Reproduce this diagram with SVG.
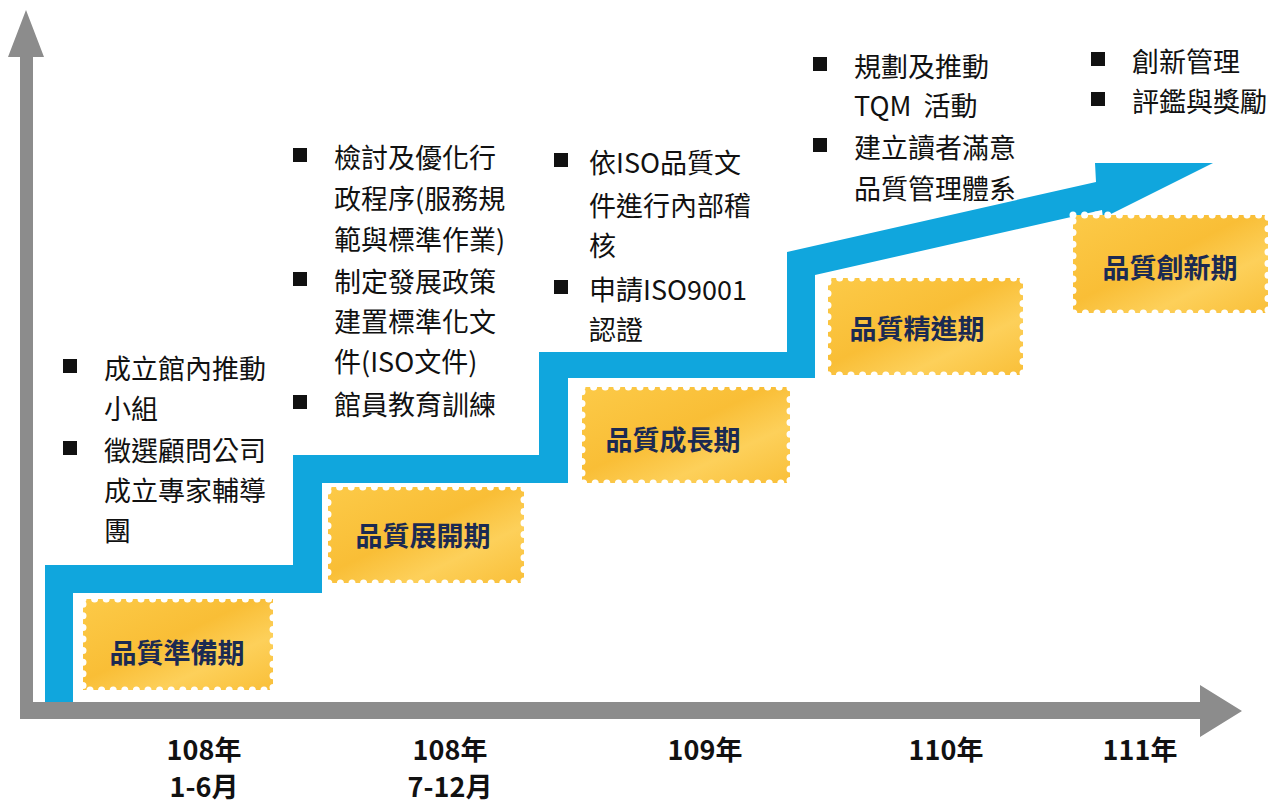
<svg xmlns="http://www.w3.org/2000/svg" width="1279" height="803" viewBox="0 0 1279 803">
<style>
.t{font-family:"Noto Sans CJK TC","Noto Sans CJK SC",sans-serif;font-size:27px;fill:#111}
.s{font-family:"Noto Sans CJK TC","Noto Sans CJK SC",sans-serif;font-size:27px;font-weight:bold;fill:#1b2a52;text-anchor:middle}
.y{font-family:"Noto Sans CJK TC","Noto Sans CJK SC",sans-serif;font-size:27px;font-weight:bold;fill:#111;text-anchor:middle}
.perf{fill:none;stroke:#fff;stroke-width:7;stroke-linecap:round;stroke-dasharray:0 11.6}
.bul{fill:#111}
</style>
<defs>
<linearGradient id="gold" x1="0" y1="0" x2="1" y2="1">
<stop offset="0" stop-color="#fcca48"/>
<stop offset="0.45" stop-color="#f9be36"/>
<stop offset="0.7" stop-color="#fdd05a"/>
<stop offset="1" stop-color="#f9bf38"/>
</linearGradient>
</defs>
<rect width="1279" height="803" fill="#fff"/>
<g id="axes" fill="#8c8c8c">
<polygon points="26,10 44,57 33,57 33,702 1200,702 1200,685 1242,711 1200,737 1200,719 20,719 20,57 8,57"/>
</g>
<g id="connectors">
<polygon fill="#10a6dd" points="45,702 45,565 293,565 293,455 539,455 539,352 787,352 787,252 1096,182 1095,163 1213,163 1103,218 1102,210 815,275 815,378 568,378 568,483 322,483 322,593 73,593 73,702"/>
</g>
<g id="stage1">
<rect x="83" y="599" width="190" height="91" fill="url(#gold)"/>
<rect x="83" y="599" width="190" height="91" class="perf"/>
<text x="177" y="663" class="s">品質準備期</text>
</g>
<g id="stage2">
<rect x="328" y="487" width="196" height="96" fill="url(#gold)"/>
<rect x="328" y="487" width="196" height="96" class="perf"/>
<text x="423" y="546" class="s">品質展開期</text>
</g>
<g id="stage3">
<rect x="582" y="387" width="208" height="96" fill="url(#gold)"/>
<rect x="582" y="387" width="208" height="96" class="perf"/>
<text x="673" y="450" class="s">品質成長期</text>
</g>
<g id="stage4">
<rect x="828" y="278" width="195" height="97" fill="url(#gold)"/>
<rect x="828" y="278" width="195" height="97" class="perf"/>
<text x="917" y="339" class="s">品質精進期</text>
</g>
<g id="stage5">
<rect x="1073" y="215" width="195" height="98" fill="url(#gold)"/>
<rect x="1073" y="215" width="195" height="98" class="perf"/>
<text x="1170" y="278" class="s">品質創新期</text>
</g>
<g id="notes1">
<rect class="bul" x="63" y="359" width="14" height="14"/>
<rect class="bul" x="63" y="441" width="14" height="14"/>
<text class="t" x="104" y="379">成立館內推動</text>
<text class="t" x="104" y="419">小組</text>
<text class="t" x="104" y="461">徵選顧問公司</text>
<text class="t" x="104" y="501">成立專家輔導</text>
<text class="t" x="104" y="541">團</text>
</g>
<g id="notes2">
<rect class="bul" x="293" y="148" width="14" height="14"/>
<rect class="bul" x="293" y="272" width="14" height="14"/>
<rect class="bul" x="293" y="395" width="14" height="14"/>
<text class="t" x="334" y="168">檢討及優化行</text>
<text class="t" x="334" y="209">政程序(服務規</text>
<text class="t" x="334" y="250">範與標準作業)</text>
<text class="t" x="334" y="292">制定發展政策</text>
<text class="t" x="334" y="332">建置標準化文</text>
<text class="t" x="334" y="372">件(ISO文件)</text>
<text class="t" x="334" y="415">館員教育訓練</text>
</g>
<g id="notes3">
<rect class="bul" x="554" y="153" width="14" height="14"/>
<rect class="bul" x="554" y="280" width="14" height="14"/>
<text class="t" x="589" y="173">依ISO品質文</text>
<text class="t" x="589" y="216">件進行內部稽</text>
<text class="t" x="589" y="256">核</text>
<text class="t" x="589" y="300">申請ISO9001</text>
<text class="t" x="589" y="340">認證</text>
</g>
<g id="notes4">
<rect class="bul" x="813" y="57" width="14" height="14"/>
<rect class="bul" x="813" y="138" width="14" height="14"/>
<text class="t" x="854" y="77">規劃及推動</text>
<text class="t" x="854" y="116" xml:space="preserve">TQM  活動</text>
<text class="t" x="854" y="158">建立讀者滿意</text>
<text class="t" x="854" y="199">品質管理體系</text>
</g>
<g id="notes5">
<rect class="bul" x="1091" y="52" width="14" height="14"/>
<rect class="bul" x="1091" y="92" width="14" height="14"/>
<text class="t" x="1132" y="72">創新管理</text>
<text class="t" x="1132" y="112">評鑑與獎勵</text>
</g>
<g id="years">
<text class="y" x="204" y="760">108年</text>
<text class="y" x="204" y="797">1-6月</text>
<text class="y" x="450" y="760">108年</text>
<text class="y" x="450" y="797">7-12月</text>
<text class="y" x="705" y="760">109年</text>
<text class="y" x="946" y="760">110年</text>
<text class="y" x="1140" y="760">111年</text>
</g>
</svg>
